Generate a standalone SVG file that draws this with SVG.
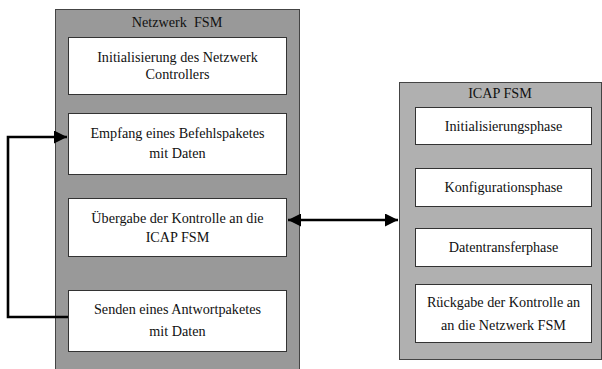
<svg xmlns="http://www.w3.org/2000/svg" width="602" height="369" viewBox="0 0 602 369">
  <style>
    .lbl { font-family: "Liberation Serif", "Times New Roman", serif; font-size: 14.2px; fill: #111; text-anchor: middle; }
    .box { fill: #fff; stroke: #333; stroke-width: 1; }
    .wire { fill: none; stroke: #000; stroke-width: 2.6; }
  </style>
  <defs>
    <marker id="arrow" viewBox="0 0 10 10" refX="10" refY="5" markerWidth="5" markerHeight="5" orient="auto-start-reverse" markerUnits="strokeWidth">
      <path d="M0,0 L10,5 L0,10 Z" fill="#000"/>
    </marker>
  </defs>

  <!-- Netzwerk FSM container -->
  <g id="netzwerk-fsm">
    <rect x="55.5" y="9.5" width="244" height="365" fill="#999" stroke="#444" stroke-width="1"/>
    <text class="lbl" x="177" y="27" xml:space="preserve">Netzwerk  FSM</text>
  </g>
  <g id="init-netzwerk">
    <rect class="box" x="68.5" y="37.5" width="218" height="57"/>
    <text class="lbl" x="177.5" y="62">Initialisierung des Netzwerk</text>
    <text class="lbl" x="177.5" y="79">Controllers</text>
  </g>
  <g id="empfang">
    <rect class="box" x="68.5" y="113.5" width="218" height="61"/>
    <text class="lbl" x="177.5" y="138">Empfang eines Befehlspaketes</text>
    <text class="lbl" x="177.5" y="158">mit Daten</text>
  </g>
  <g id="uebergabe">
    <rect class="box" x="68.5" y="198.5" width="218" height="58"/>
    <text class="lbl" x="177.5" y="223">Übergabe der Kontrolle an die</text>
    <text class="lbl" x="177.5" y="242">ICAP FSM</text>
  </g>
  <g id="senden">
    <rect class="box" x="68.5" y="290.5" width="218" height="61"/>
    <text class="lbl" x="177.5" y="314">Senden eines Antwortpaketes</text>
    <text class="lbl" x="177.5" y="336">mit Daten</text>
  </g>

  <!-- ICAP FSM container -->
  <g id="icap-fsm">
    <rect x="399.5" y="82.5" width="202" height="277" fill="#b0b0b0" stroke="#444" stroke-width="1"/>
    <text class="lbl" x="500" y="98">ICAP FSM</text>
  </g>
  <g id="init-phase">
    <rect class="box" x="415.5" y="107.5" width="176" height="37"/>
    <text class="lbl" x="503.5" y="131">Initialisierungsphase</text>
  </g>
  <g id="konfig-phase">
    <rect class="box" x="415.5" y="168.5" width="176" height="38"/>
    <text class="lbl" x="503.5" y="192">Konfigurationsphase</text>
  </g>
  <g id="transfer-phase">
    <rect class="box" x="415.5" y="228.5" width="176" height="38"/>
    <text class="lbl" x="503.5" y="252">Datentransferphase</text>
  </g>
  <g id="rueckgabe">
    <rect class="box" x="415.5" y="284.5" width="176" height="58"/>
    <text class="lbl" x="503.5" y="307">Rückgabe der Kontrolle an</text>
    <text class="lbl" x="503.5" y="330">an die Netzwerk FSM</text>
  </g>

  <!-- connectors -->
  <g id="connectors">
    <path class="wire" d="M68,317 H8 V137 H67" marker-end="url(#arrow)"/>
    <path class="wire" d="M288,220 H398" marker-start="url(#arrow)" marker-end="url(#arrow)"/>
  </g>
</svg>
